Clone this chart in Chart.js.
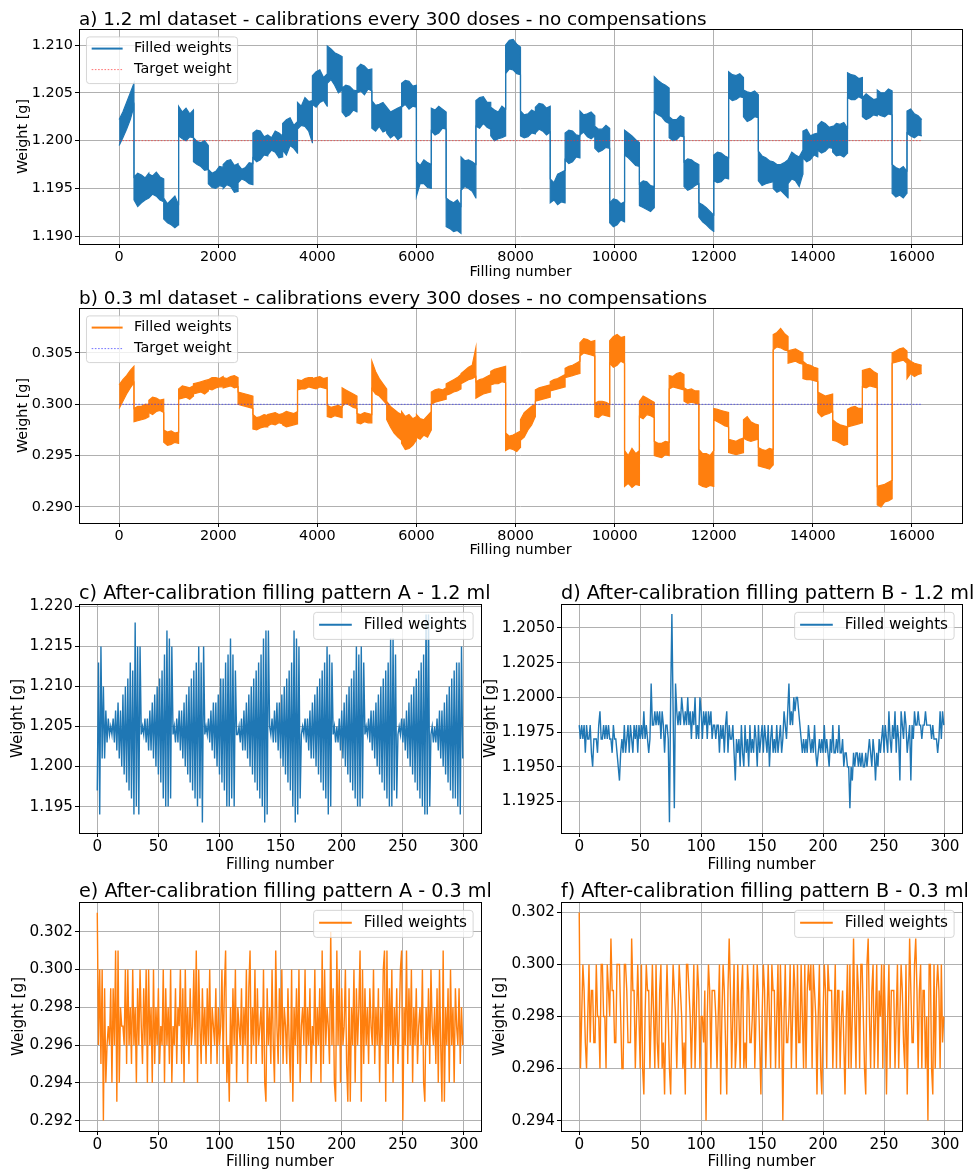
<!DOCTYPE html>
<html>
<head>
<meta charset="utf-8">
<script src="https://cdn.jsdelivr.net/npm/chart.js@4.4.1/dist/chart.umd.min.js"></script>
<style>
  body { margin: 0; background: #fff; }
  #fig { position: relative; width: 975px; height: 1169px; overflow: hidden; background: #fff; }
  #fig canvas { position: absolute; }
</style>
</head>
<body>
<div id="fig">
  <canvas id="chartA"></canvas>
  <canvas id="chartB"></canvas>
  <canvas id="chartC"></canvas>
  <canvas id="chartD"></canvas>
  <canvas id="chartE"></canvas>
  <canvas id="chartF"></canvas>
</div>
<script>
// ---- data ----
const doseBlock = 300;                    // calibration every 300 doses
const segOffsets = [0, 75, 150, 225, 299]; // points read inside each block
const lastDose = 16199;

// a) 1.2 ml: lower / upper edge of the noise band, 5 readings per block
const aLo = [
  1.1995,1.2003,1.2012,1.2022,1.2036, 1.1938,1.1931,1.1935,1.1938,1.1940,
  1.1940,1.1944,1.1942,1.1938,1.1936, 1.1918,1.1914,1.1912,1.1909,1.1912,
  1.2005,1.2002,1.2000,1.2004,1.2003, 1.1978,1.1975,1.1973,1.1969,1.1970,
  1.1955,1.1951,1.1950,1.1953,1.1952, 1.1950,1.1954,1.1952,1.1946,1.1947,
  1.1956,1.1960,1.1958,1.1955,1.1954, 1.1982,1.1978,1.1980,1.1985,1.1984,
  1.1985,1.1990,1.1988,1.1982,1.1983, 1.1990,1.1985,1.1995,1.1992,1.1987,
  1.2012,1.2016,1.2015,1.2010,1.1998, 1.2038,1.2035,1.2040,1.2042,1.2036,
  1.2060,1.2064,1.2058,1.2050,1.2053, 1.2030,1.2025,1.2027,1.2032,1.2030,
  1.2050,1.2052,1.2048,1.2054,1.2052, 1.2013,1.2010,1.2015,1.2009,1.2011,
  1.2008,1.2003,1.2006,1.2001,1.2004, 1.2035,1.2038,1.2033,1.2036,1.2035,
  1.1942,1.1955,1.1955,1.1951,1.1950, 1.2010,1.2006,1.2008,1.2013,1.2012,
  1.1910,1.1908,1.1905,1.1906,1.1903, 1.1948,1.1952,1.1950,1.1947,1.1940,
  1.2015,1.2013,1.2018,1.2014,1.2012, 1.2005,1.2000,1.2002,1.2003,1.2005,
  1.2070,1.2075,1.2074,1.2070,1.2069, 1.2005,1.2003,1.2004,1.2008,1.2007,
  1.2008,1.2012,1.2010,1.2006,1.2009, 1.1935,1.1938,1.1933,1.1936,1.1935,
  1.1980,1.1976,1.1978,1.1983,1.1982, 1.2006,1.2009,1.2004,1.2002,1.2005,
  1.1992,1.1988,1.1990,1.1993,1.1992, 1.1914,1.1910,1.1912,1.1917,1.1915,
  1.1985,1.1982,1.1978,1.1974,1.1973, 1.1932,1.1930,1.1928,1.1926,1.1930,
  1.2030,1.2027,1.2025,1.2020,1.2018, 1.2003,1.2000,1.2001,1.2005,1.2004,
  1.1952,1.1948,1.1950,1.1953,1.1955, 1.1920,1.1915,1.1912,1.1908,1.1905,
  1.1958,1.1956,1.1957,1.1961,1.1960, 1.2045,1.2042,1.2043,1.2046,1.2045,
  1.2025,1.2020,1.2022,1.2025,1.2024, 1.1958,1.1953,1.1955,1.1956,1.1957,
  1.1950,1.1946,1.1948,1.1944,1.1940, 1.1955,1.1960,1.1958,1.1952,1.1965,
  1.1982,1.1978,1.1980,1.1985,1.1983, 1.1990,1.1987,1.1989,1.1993,1.1992,
  1.1988,1.1984,1.1985,1.1983,1.1987, 1.2045,1.2043,1.2043,1.2046,1.2044,
  1.2025,1.2022,1.2024,1.2027,1.2026, 1.2028,1.2026,1.2025,1.2028,1.2027,
  1.1945,1.1941,1.1943,1.1940,1.1945, 1.2008,1.2005,1.2003,1.2006,1.2005
];
const aHi = [
  1.2022,1.2030,1.2040,1.2050,1.2060, 1.1962,1.1966,1.1964,1.1961,1.1966,
  1.1965,1.1963,1.1967,1.1962,1.1960, 1.1940,1.1934,1.1938,1.1942,1.1933,
  1.2036,1.2030,1.2034,1.2028,1.2032, 1.2003,1.1999,1.1998,1.2000,1.1995,
  1.1970,1.1966,1.1968,1.1973,1.1972, 1.1975,1.1979,1.1980,1.1974,1.1976,
  1.1975,1.1970,1.1972,1.1977,1.1976, 1.2008,1.2011,1.2010,1.2004,1.2006,
  1.2006,1.2003,1.2010,1.2008,1.2005, 1.2018,1.2022,1.2024,1.2016,1.2020,
  1.2040,1.2036,1.2045,1.2041,1.2042, 1.2068,1.2072,1.2074,1.2066,1.2070,
  1.2099,1.2096,1.2092,1.2090,1.2088, 1.2055,1.2058,1.2057,1.2053,1.2052,
  1.2076,1.2080,1.2078,1.2074,1.2075, 1.2042,1.2037,1.2038,1.2040,1.2035,
  1.2035,1.2030,1.2032,1.2034,1.2036, 1.2060,1.2063,1.2062,1.2057,1.2058,
  1.1978,1.1974,1.1980,1.1977,1.1975, 1.2034,1.2032,1.2036,1.2033,1.2030,
  1.1940,1.1937,1.1935,1.1938,1.1932, 1.1983,1.1979,1.1980,1.1978,1.1975,
  1.2042,1.2045,1.2046,1.2040,1.2040, 1.2035,1.2032,1.2030,1.2036,1.2033,
  1.2100,1.2105,1.2106,1.2101,1.2098, 1.2031,1.2027,1.2028,1.2032,1.2030,
  1.2035,1.2039,1.2038,1.2034,1.2036, 1.1960,1.1956,1.1965,1.1967,1.1969,
  1.2008,1.2011,1.2010,1.2006,1.2005, 1.2031,1.2027,1.2028,1.2030,1.2026,
  1.2015,1.2012,1.2012,1.2016,1.2013, 1.1935,1.1939,1.1938,1.1934,1.1936,
  1.2011,1.2008,1.2005,1.2001,1.1998, 1.1955,1.1958,1.1957,1.1953,1.1952,
  1.2067,1.2063,1.2060,1.2058,1.2055, 1.2025,1.2022,1.2022,1.2026,1.2024,
  1.1978,1.1981,1.1980,1.1977,1.1975, 1.1935,1.1933,1.1930,1.1926,1.1922,
  1.1985,1.1988,1.1987,1.1984,1.1982, 1.2072,1.2069,1.2068,1.2070,1.2066,
  1.2053,1.2051,1.2050,1.2052,1.2048, 1.1989,1.1984,1.1982,1.1979,1.1978,
  1.1978,1.1975,1.1975,1.1977,1.1980, 1.1980,1.1988,1.1985,1.1983,1.1990,
  1.2010,1.2012,1.2005,1.2007,1.2008, 1.2016,1.2020,1.2018,1.2014,1.2015,
  1.2014,1.2018,1.2017,1.2019,1.2013, 1.2071,1.2069,1.2068,1.2065,1.2066,
  1.2045,1.2049,1.2046,1.2043,1.2044, 1.2053,1.2050,1.2050,1.2054,1.2052,
  1.1975,1.1972,1.1970,1.1973,1.1968, 1.2031,1.2033,1.2028,1.2026,1.2022
];

// b) 0.3 ml: same layout
const bLo = [
  0.2996,0.3003,0.3010,0.3016,0.3021, 0.2983,0.2984,0.2985,0.2986,0.2988,
  0.2992,0.2990,0.2993,0.2994,0.2992, 0.2963,0.2960,0.2961,0.2963,0.2962,
  0.3005,0.3006,0.3007,0.3005,0.3008, 0.3010,0.3011,0.3012,0.3010,0.3013,
  0.3015,0.3014,0.3016,0.3017,0.3017, 0.3016,0.3017,0.3018,0.3016,0.3017,
  0.3000,0.2999,0.2998,0.2997,0.2996, 0.2976,0.2975,0.2977,0.2978,0.2978,
  0.2979,0.2981,0.2980,0.2982,0.2981, 0.2980,0.2978,0.2979,0.2980,0.2981,
  0.3014,0.3015,0.3015,0.3017,0.3016, 0.3016,0.3015,0.3017,0.3016,0.3015,
  0.2988,0.2987,0.2989,0.2988,0.2987, 0.2998,0.3001,0.2999,0.2997,0.2996,
  0.2982,0.2981,0.2983,0.2982,0.2982, 0.3015,0.3010,0.3008,0.3004,0.3000,
  0.2985,0.2978,0.2972,0.2968,0.2965, 0.2962,0.2956,0.2957,0.2960,0.2965,
  0.2968,0.2966,0.2970,0.2968,0.2975, 0.3000,0.3002,0.3003,0.3004,0.3005,
  0.3009,0.3010,0.3012,0.3013,0.3015, 0.3020,0.3022,0.3024,0.3025,0.3027,
  0.3006,0.3008,0.3010,0.3011,0.3012, 0.3019,0.3020,0.3020,0.3022,0.3021,
  0.2955,0.2957,0.2956,0.2954,0.2958, 0.2965,0.2968,0.2975,0.2980,0.2988,
  0.3003,0.3004,0.3005,0.3006,0.3007, 0.3013,0.3014,0.3015,0.3016,0.3017,
  0.3026,0.3027,0.3028,0.3029,0.3030, 0.3047,0.3050,0.3049,0.3048,0.3047,
  0.2988,0.2987,0.2990,0.2989,0.2988, 0.3040,0.3036,0.3038,0.3042,0.3040,
  0.2920,0.2923,0.2919,0.2922,0.2921, 0.2988,0.2986,0.2990,0.2989,0.2987,
  0.2950,0.2949,0.2948,0.2951,0.2950, 0.3015,0.3017,0.3016,0.3015,0.3014,
  0.3003,0.3001,0.3002,0.3001,0.3000, 0.2922,0.2920,0.2919,0.2921,0.2920,
  0.2985,0.2983,0.2981,0.2979,0.2978, 0.2953,0.2952,0.2951,0.2952,0.2953,
  0.2967,0.2965,0.2964,0.2965,0.2966, 0.2940,0.2939,0.2938,0.2937,0.2941,
  0.3053,0.3056,0.3055,0.3053,0.3052, 0.3040,0.3041,0.3042,0.3040,0.3039,
  0.3025,0.3024,0.3024,0.3023,0.3022, 0.2992,0.2988,0.2990,0.2991,0.2993,
  0.2965,0.2964,0.2962,0.2960,0.2961, 0.2978,0.2979,0.2980,0.2981,0.2982,
  0.3017,0.3016,0.3018,0.3017,0.3016, 0.2902,0.2900,0.2905,0.2906,0.2908,
  0.3040,0.3041,0.3042,0.3043,0.3040, 0.3025,0.3030,0.3027,0.3029,0.3030
];
const bHi = [
  0.3019,0.3024,0.3028,0.3033,0.3037, 0.2996,0.2998,0.2998,0.3000,0.3000,
  0.3004,0.3007,0.3006,0.3004,0.3005, 0.2975,0.2973,0.2974,0.2972,0.2973,
  0.3015,0.3018,0.3017,0.3016,0.3018, 0.3020,0.3021,0.3022,0.3023,0.3024,
  0.3024,0.3026,0.3026,0.3025,0.3027, 0.3026,0.3025,0.3027,0.3028,0.3026,
  0.3012,0.3011,0.3010,0.3009,0.3008, 0.2990,0.2987,0.2988,0.2990,0.2989,
  0.2990,0.2991,0.2992,0.2990,0.2991, 0.2991,0.2993,0.2992,0.2991,0.2993,
  0.3024,0.3023,0.3025,0.3026,0.3026, 0.3025,0.3026,0.3027,0.3025,0.3026,
  0.2999,0.2997,0.2998,0.2999,0.2997, 0.3016,0.3014,0.3012,0.3010,0.3008,
  0.2991,0.2990,0.2992,0.2991,0.2990, 0.3042,0.3032,0.3025,0.3020,0.3015,
  0.3003,0.2998,0.2995,0.2992,0.2990, 0.2993,0.2988,0.2990,0.2986,0.2988,
  0.2990,0.2986,0.2985,0.2989,0.2993, 0.3012,0.3014,0.3015,0.3014,0.3016,
  0.3020,0.3022,0.3024,0.3026,0.3029, 0.3030,0.3033,0.3036,0.3038,0.3055,
  0.3022,0.3024,0.3025,0.3027,0.3029, 0.3032,0.3034,0.3035,0.3036,0.3037,
  0.2972,0.2969,0.2970,0.2972,0.2974, 0.2985,0.2992,0.2995,0.2998,0.3000,
  0.3014,0.3016,0.3017,0.3018,0.3019, 0.3022,0.3024,0.3025,0.3027,0.3029,
  0.3035,0.3037,0.3038,0.3040,0.3042, 0.3060,0.3064,0.3063,0.3061,0.3062,
  0.3001,0.3003,0.3003,0.3002,0.3000, 0.3062,0.3066,0.3068,0.3065,0.3066,
  0.2955,0.2950,0.2957,0.2952,0.2955, 0.3003,0.3008,0.3006,0.3004,0.3002,
  0.2964,0.2962,0.2962,0.2964,0.2963, 0.3028,0.3027,0.3030,0.3031,0.3029,
  0.3016,0.3014,0.3015,0.3013,0.3013, 0.2956,0.2952,0.2952,0.2950,0.2955,
  0.2996,0.2995,0.2994,0.2993,0.2992, 0.2966,0.2965,0.2964,0.2966,0.2967,
  0.2985,0.2988,0.2983,0.2981,0.2980, 0.2958,0.2956,0.2955,0.2957,0.2956,
  0.3068,0.3070,0.3074,0.3069,0.3066, 0.3052,0.3053,0.3054,0.3052,0.3050,
  0.3042,0.3039,0.3038,0.3036,0.3035, 0.3012,0.3010,0.3008,0.3009,0.3010,
  0.2985,0.2982,0.2980,0.2979,0.2978, 0.2995,0.2997,0.2998,0.2996,0.2996,
  0.3033,0.3034,0.3035,0.3032,0.3030, 0.2920,0.2921,0.2922,0.2924,0.2926,
  0.3050,0.3052,0.3054,0.3055,0.3052, 0.3045,0.3042,0.3040,0.3039,0.3038
];
const targetA = 1.200;
const targetB = 0.300;

// c) - f) one value per filling, in mg
const cMg = [
  1197,1213,1194,1215,1201,1210,1201,1207,1203,1206,1204,1205,
  1204,1206,1203,1207,1202,1208,1201,1207,1200,1209,1199,1210,1198,1211,1197,1213,1196,1212,1194,1218,1195,1215,1194,1215,
  1204,1205,1204,1206,1203,1206,1202,1207,1202,1208,1201,1209,1200,1210,1199,1211,1198,1212,1196,1214,1195,1217,1195,1216,1196,1215,
  1204,1205,1203,1206,1203,1207,1202,1207,1201,1208,1200,1209,1199,1210,1198,1211,1197,1212,1196,1213,1195,1215,1196,1213,1193,1215,
  1204,1205,1204,1206,1203,1207,1202,1208,1201,1208,1200,1209,1199,1211,1198,1211,1197,1213,1195,1214,1195,1216,1196,1214,1195,1212,
  1204,1204,1205,1203,1206,1202,1207,1202,1208,1201,1209,1200,1210,1199,1211,1198,1212,1197,1213,1196,1214,1195,1216,1193,1217,1194,1217,
  1205,1204,1206,1203,1207,1203,1208,1202,1208,1201,1209,1200,1210,1199,1211,1198,1212,1197,1213,1195,1217,1193,1216,1194,1215,1196,
  1204,1205,1204,1206,1203,1206,1202,1207,1201,1208,1201,1209,1200,1210,1199,1211,1198,1212,1197,1213,1196,1215,1194,1214,1195,1213,
  1204,1205,1203,1205,1203,1206,1202,1207,1201,1208,1200,1209,1199,1210,1198,1211,1197,1212,1196,1215,1195,1214,1195,1215,1196,1213,
  1204,1205,1204,1206,1203,1207,1202,1207,1201,1208,1200,1209,1199,1210,1198,1211,1197,1212,1196,1213,1195,1216,1195,1216,1197,1214,1196,
  1204,1205,1204,1206,1203,1206,1202,1207,1201,1208,1200,1209,1199,1210,1198,1211,1197,1212,1196,1213,1195,1214,1194,1219,1194,1219,1195,
  1204,1205,1203,1205,1203,1206,1202,1207,1201,1207,1200,1208,1199,1209,1198,1210,1197,1211,1196,1212,1196,1213,1195,1213,1194,1215,1201
];
const dMg = [
  1198,1197,1198,1197,1198,1196,1198,1197,1197,1198, 1196,1195,1197,1197,1197,1196,1198,1199,1197,1197,
  1198,1197,1198,1197,1198,1197,1197,1196,1198,1197, 1197,1196,1195,1194,1196,1197,1196,1198,1196,1197,
  1198,1196,1198,1197,1196,1198,1197,1198,1196,1198, 1197,1198,1197,1199,1197,1198,1197,1196,1197,1201,
  1198,1198,1199,1198,1199,1198,1199,1197,1199,1198, 1196,1198,1198,1197,1191,1200,1206,1199,1192,1201,
  1199,1198,1199,1198,1200,1199,1198,1199,1198,1200, 1198,1199,1197,1199,1198,1200,1197,1198,1197,1200,
  1199,1197,1199,1198,1199,1197,1199,1198,1199,1197, 1198,1198,1197,1198,1198,1196,1198,1197,1198,1196,
  1198,1199,1196,1198,1197,1197,1198,1196,1194,1197, 1196,1197,1195,1198,1196,1195,1198,1196,1197,1195,
  1198,1196,1197,1196,1198,1197,1195,1198,1196,1197, 1198,1196,1198,1197,1196,1198,1195,1197,1198,1196,
  1197,1196,1198,1196,1197,1198,1196,1197,1199,1198, 1197,1199,1201,1198,1199,1198,1200,1199,1200,1200,
  1199,1198,1197,1196,1197,1196,1197,1196,1198,1197, 1196,1197,1196,1198,1196,1195,1196,1197,1196,1197,
  1196,1198,1196,1197,1196,1195,1197,1196,1198,1196, 1196,1197,1196,1198,1196,1196,1197,1195,1196,1196,
  1195,1195,1192,1195,1194,1196,1195,1196,1196,1195, 1196,1195,1196,1195,1195,1196,1195,1196,1197,1196,
  1195,1197,1196,1194,1196,1195,1197,1196,1197,1198, 1196,1198,1197,1196,1199,1197,1196,1198,1197,1199,
  1196,1198,1197,1194,1199,1198,1197,1199,1198,1196, 1197,1198,1194,1198,1197,1199,1198,1198,1199,1198,
  1198,1197,1198,1198,1199,1198,1198,1198,1198,1197, 1198,1197,1197,1197,1196,1197,1199,1197,1199,1198
];
const eMg = [
  303,296,300,295,300,292,299,294,296,297, 296,299,294,299,296,301,293,301,294,298,
  297,297,296,300,295,300,296,298,295,300, 296,298,294,299,296,300,297,295,299,296,
  300,294,300,296,298,294,300,295,298,296, 299,295,297,296,300,294,299,296,298,295,
  300,294,297,296,299,295,298,297,300,295, 299,294,300,296,298,295,299,296,297,300,
  296,301,294,300,297,295,299,296,298,295, 299,296,300,295,298,297,296,299,295,298,
  296,297,300,295,299,301,294,296,293,298, 295,299,296,300,294,298,297,296,299,295,
  298,296,300,294,299,301,295,298,296,300, 295,299,296,297,298,295,300,294,293,299,
  296,298,295,300,296,294,301,297,295,299, 296,300,295,298,297,295,299,296,294,300,
  293,298,296,299,295,300,294,297,298,296, 300,295,298,296,299,294,297,296,300,295,
  298,296,299,294,301,295,300,296,298,297, 295,302,296,299,294,293,301,296,300,294,
  299,296,297,300,295,293,299,293,298,296, 300,294,299,296,298,301,293,300,295,299,
  296,298,295,299,297,296,300,295,298,296, 299,294,298,296,300,301,293,301,295,299,
  296,300,294,298,296,299,295,297,300,301, 292,298,296,301,295,299,296,300,294,298,
  296,299,295,297,298,296,300,294,293,298, 296,299,295,300,297,296,298,295,299,294,
  300,296,293,301,293,298,296,299,294,300, 296,298,294,299,297,296,299,295,298,296
];
const fMg = [
  302,296,298,300,299,297,296,298,300,297, 299,299,297,297,300,298,298,296,300,300,
  298,298,296,300,299,298,301,299,299,297, 297,300,300,300,298,296,296,300,300,299,
  297,297,297,301,299,299,296,298,300,298, 296,300,296,295,298,300,299,299,296,298,
  300,298,296,300,297,296,299,300,296,297, 295,298,300,298,296,295,298,300,299,298,
  296,298,300,299,298,296,297,295,300,300, 299,298,296,298,300,296,298,300,299,296,
  298,298,297,299,294,298,300,299,296,299, 299,299,298,296,298,300,295,298,300,299,
  297,295,299,301,299,296,298,300,296,297, 300,298,296,299,300,296,297,296,300,299,
  297,297,298,300,296,298,300,299,297,295, 298,300,299,296,298,300,298,296,300,299,
  299,296,298,300,296,300,298,294,298,300, 297,297,298,300,296,298,300,299,296,300,
  297,297,300,298,296,300,296,299,300,299, 300,296,300,299,298,295,298,300,296,295,
  298,300,299,296,300,299,299,299,296,298, 300,296,299,299,296,298,299,297,295,298,
  300,296,300,296,298,301,298,296,300,299, 296,300,300,298,296,295,300,301,298,296,
  299,300,296,298,300,296,299,298,300,296, 300,298,295,298,300,296,299,299,299,296,
  298,300,296,298,300,299,297,296,300,295, 298,301,299,297,297,300,301,299,296,299,
  300,296,299,299,296,298,294,300,300,296, 295,300,296,299,300,299,296,300,297,298
];

// tick values
const xTicksBig = [0, 2000, 4000, 6000, 8000, 10000, 12000, 14000, 16000];
const xTicksSmall = [0, 50, 100, 150, 200, 250, 300];
const yTicksA = [1.190, 1.195, 1.200, 1.205, 1.210];
const yTicksB = [0.290, 0.295, 0.300, 0.305];
const yTicksC = [1.195, 1.200, 1.205, 1.210, 1.215, 1.220];
const yTicksD = [1.1925, 1.1950, 1.1975, 1.2000, 1.2025, 1.2050];
const yTicksE = [0.292, 0.294, 0.296, 0.298, 0.300, 0.302];
const yTicksF = [0.294, 0.296, 0.298, 0.300, 0.302];

// ---- styling ----
const BLUE = '#1f77b4';
const ORANGE = '#ff7f0e';
const FONT = "'DejaVu Sans', sans-serif";
const GRID = '#b0b0b0';

Chart.defaults.font.family = FONT;
Chart.defaults.color = '#000';

// ---- helpers ----
function bandPoints(vals) {
  const n = segOffsets.length;
  return vals.map((y, j) => ({ x: Math.floor(j / n) * doseBlock + segOffsets[j % n], y: y }));
}

function seriesPoints(mg) {
  return mg.map((v, i) => ({ x: i, y: v / 1000 }));
}

// black box round the plot area, like a matplotlib axes frame
const frameBox = {
  id: 'frameBox',
  afterDatasetsDraw(chart) {
    const { ctx, chartArea: a } = chart;
    ctx.save();
    ctx.strokeStyle = '#000';
    ctx.lineWidth = 1;
    ctx.strokeRect(Math.round(a.left) + 0.5, Math.round(a.top) + 0.5,
      Math.round(a.right - a.left), Math.round(a.bottom - a.top));
    ctx.restore();
  }
};

// left-aligned axes title
const mplTitle = {
  id: 'mplTitle',
  afterDraw(chart, args, opts) {
    if (!opts.text) return;
    const { ctx, chartArea: a } = chart;
    ctx.save();
    ctx.font = `${opts.size}px ${FONT}`;
    ctx.fillStyle = '#000';
    ctx.textAlign = 'left';
    ctx.textBaseline = 'alphabetic';
    ctx.fillText(opts.text, a.left, a.top - opts.gap);
    ctx.restore();
  }
};

// legend box drawn inside the axes corner
const mplLegend = {
  id: 'mplLegend',
  afterDraw(chart, args, opts) {
    if (!opts.items) return;
    const { ctx, chartArea: a } = chart;
    const s = opts.size;
    ctx.save();
    ctx.font = `${s}px ${FONT}`;
    const textW = Math.max(...opts.items.map(it => ctx.measureText(it.label).width));
    const lineX0 = 0.36 * s, lineLen = 2.15 * s, textX = 3.3 * s;
    const w = textX + textW + 0.4 * s;
    const row0 = 0.81 * s, rowGap = 1.46 * s;
    const h = row0 + rowGap * (opts.items.length - 1) + 0.97 * s;
    const x = opts.corner === 'right' ? a.right - 0.52 * s - w : a.left + 0.52 * s;
    const y = a.top + 0.55 * s;

    ctx.beginPath();
    ctx.roundRect(x, y, w, h, 3);
    ctx.fillStyle = 'rgba(255,255,255,0.8)';
    ctx.fill();
    ctx.strokeStyle = 'rgba(204,204,204,0.8)';
    ctx.lineWidth = 1;
    ctx.stroke();

    opts.items.forEach((it, i) => {
      const cy = y + row0 + rowGap * i;
      ctx.beginPath();
      ctx.setLineDash(it.dash || []);
      ctx.strokeStyle = it.color;
      ctx.lineWidth = it.width;
      ctx.moveTo(x + lineX0, cy);
      ctx.lineTo(x + lineX0 + lineLen, cy);
      ctx.stroke();
      ctx.setLineDash([]);
      ctx.fillStyle = '#000';
      ctx.textAlign = 'left';
      ctx.textBaseline = 'middle';
      ctx.fillText(it.label, x + textX, cy);
    });
    ctx.restore();
  }
};

// place a canvas on the page and build a chart whose plot area sits at `area`
function makeChart(id, box, area, cfg) {
  const canvas = document.getElementById(id);
  canvas.width = box.w;
  canvas.height = box.h;
  canvas.style.left = box.x + 'px';
  canvas.style.top = box.y + 'px';
  canvas.style.width = box.w + 'px';
  canvas.style.height = box.h + 'px';

  const yWidth = area.left - box.x;
  const xHeight = box.y + box.h - area.bottom;
  const tickSize = cfg.tickSize;
  const lh = tickSize * 1.2;

  return new Chart(canvas, {
    type: 'line',
    data: { datasets: cfg.datasets },
    plugins: [frameBox, mplTitle, mplLegend],
    options: {
      responsive: false,
      animation: false,
      devicePixelRatio: 1,
      events: [],
      layout: {
        autoPadding: false,
        padding: { left: 0, top: area.top - box.y, right: box.x + box.w - area.right, bottom: 0 }
      },
      elements: { point: { radius: 0 }, line: { tension: 0 } },
      plugins: {
        legend: { display: false },
        tooltip: { enabled: false },
        mplTitle: { text: cfg.title, size: cfg.titleSize, gap: cfg.titleGap },
        mplLegend: { items: cfg.legend, corner: cfg.legendCorner, size: tickSize }
      },
      scales: {
        x: {
          type: 'linear',
          min: cfg.xMin,
          max: cfg.xMax,
          afterBuildTicks: s => { s.ticks = cfg.xTicks.map(v => ({ value: v })); },
          afterFit: s => { s.height = xHeight; },
          ticks: {
            font: { size: tickSize }, color: '#000', padding: 1, maxRotation: 0, autoSkip: false,
            callback: v => String(v)
          },
          grid: { color: GRID, lineWidth: 1, tickColor: '#000', tickLength: 4, tickWidth: 1 },
          border: { display: false },
          title: {
            display: true, text: 'Filling number', font: { size: tickSize }, color: '#000',
            padding: { top: 0, bottom: cfg.xTitleFromBottom - lh / 2 }
          }
        },
        y: {
          type: 'linear',
          min: cfg.yMin,
          max: cfg.yMax,
          afterBuildTicks: s => { s.ticks = cfg.yTicks.map(v => ({ value: v })); },
          afterFit: s => { s.width = yWidth; },
          ticks: {
            font: { size: tickSize }, color: '#000', padding: 2, autoSkip: false,
            callback: v => v.toFixed(cfg.yDecimals)
          },
          grid: { color: GRID, lineWidth: 1, tickColor: '#000', tickLength: 4, tickWidth: 1 },
          border: { display: false },
          title: {
            display: true, text: 'Weight [g]', font: { size: tickSize }, color: '#000',
            padding: { top: cfg.yTitleX - box.x - lh / 2, bottom: 0 }
          }
        }
      }
    }
  });
}

function bandDatasets(lo, hi, color, target, targetColor) {
  return [
    { label: 'hi', data: bandPoints(hi), borderColor: color, borderWidth: 1.2, fill: false, order: 2 },
    { label: 'Filled weights', data: bandPoints(lo), borderColor: color, borderWidth: 1.2,
      backgroundColor: color, fill: '-1', order: 2 },
    { label: 'Target weight', data: [{ x: 0, y: target }, { x: lastDose, y: target }],
      borderColor: targetColor, borderWidth: 1, borderDash: [1.6, 1.6], fill: false, order: 1 }
  ];
}

function lineDataset(mg, color) {
  return [{ label: 'Filled weights', data: seriesPoints(mg), borderColor: color, borderWidth: 1.4, fill: false }];
}

const TOP_TICK = 14.4, TOP_TITLE = 18.4;
const BOT_TICK = 15.2, BOT_TITLE = 19.2;
const RED_T = 'rgba(255,40,40,0.65)';
const BLUE_T = 'rgba(40,40,255,0.65)';

// a)
makeChart('chartA', { x: 0, y: 0, w: 975, h: 282 }, { left: 79, top: 29, right: 962, bottom: 244 }, {
  datasets: bandDatasets(aLo, aHi, BLUE, targetA, RED_T),
  title: 'a) 1.2 ml dataset - calibrations every 300 doses - no compensations',
  titleSize: TOP_TITLE, titleGap: 4.5, tickSize: TOP_TICK,
  xMin: -810, xMax: 17010, xTicks: xTicksBig,
  yMin: 1.18919, yMax: 1.21168, yTicks: yTicksA, yDecimals: 3,
  xTitleFromBottom: 10, yTitleX: 23.7,
  legend: [
    { label: 'Filled weights', color: BLUE, width: 2 },
    { label: 'Target weight', color: RED_T, width: 1, dash: [1.6, 1.6] }
  ], legendCorner: 'left'
});

// b)
makeChart('chartB', { x: 0, y: 282, w: 975, h: 288 }, { left: 79, top: 308, right: 962, bottom: 523 }, {
  datasets: bandDatasets(bLo, bHi, ORANGE, targetB, BLUE_T),
  title: 'b) 0.3 ml dataset - calibrations every 300 doses - no compensations',
  titleSize: TOP_TITLE, titleGap: 4.5, tickSize: TOP_TICK,
  xMin: -810, xMax: 17010, xTicks: xTicksBig,
  yMin: 0.28844, yMax: 0.30938, yTicks: yTicksB, yDecimals: 3,
  xTitleFromBottom: 20, yTitleX: 23.7,
  legend: [
    { label: 'Filled weights', color: ORANGE, width: 2 },
    { label: 'Target weight', color: BLUE_T, width: 1, dash: [1.6, 1.6] }
  ], legendCorner: 'left'
});

// c)
makeChart('chartC', { x: 0, y: 570, w: 495, h: 305 }, { left: 79, top: 604, right: 481, bottom: 833 }, {
  datasets: lineDataset(cMg, BLUE),
  title: 'c) After-calibration filling pattern A - 1.2 ml',
  titleSize: BOT_TITLE, titleGap: 5.5, tickSize: BOT_TICK,
  xMin: -14.95, xMax: 313.95, xTicks: xTicksSmall,
  yMin: 1.1917, yMax: 1.2203, yTicks: yTicksC, yDecimals: 3,
  xTitleFromBottom: 10, yTitleX: 18.5,
  legend: [{ label: 'Filled weights', color: BLUE, width: 2 }], legendCorner: 'right'
});

// d)
makeChart('chartD', { x: 470, y: 570, w: 505, h: 305 }, { left: 561, top: 604, right: 962, bottom: 833 }, {
  datasets: lineDataset(dMg, BLUE),
  title: 'd) After-calibration filling pattern B - 1.2 ml',
  titleSize: BOT_TITLE, titleGap: 5.5, tickSize: BOT_TICK,
  xMin: -14.95, xMax: 313.95, xTicks: xTicksSmall,
  yMin: 1.19022, yMax: 1.20673, yTicks: yTicksD, yDecimals: 4,
  xTitleFromBottom: 10, yTitleX: 491.5,
  legend: [{ label: 'Filled weights', color: BLUE, width: 2 }], legendCorner: 'right'
});

// e)
makeChart('chartE', { x: 0, y: 875, w: 495, h: 294 }, { left: 79, top: 902, right: 481, bottom: 1131 }, {
  datasets: lineDataset(eMg, ORANGE),
  title: 'e) After-calibration filling pattern A - 0.3 ml',
  titleSize: BOT_TITLE, titleGap: 5.5, tickSize: BOT_TICK,
  xMin: -14.95, xMax: 313.95, xTicks: xTicksSmall,
  yMin: 0.29145, yMax: 0.30357, yTicks: yTicksE, yDecimals: 3,
  xTitleFromBottom: 7.3, yTitleX: 18.7,
  legend: [{ label: 'Filled weights', color: ORANGE, width: 2 }], legendCorner: 'right'
});

// f)
makeChart('chartF', { x: 470, y: 875, w: 505, h: 294 }, { left: 561, top: 902, right: 962, bottom: 1131 }, {
  datasets: lineDataset(fMg, ORANGE),
  title: 'f) After-calibration filling pattern B - 0.3 ml',
  titleSize: BOT_TITLE, titleGap: 5.5, tickSize: BOT_TICK,
  xMin: -14.95, xMax: 313.95, xTicks: xTicksSmall,
  yMin: 0.2936, yMax: 0.3024, yTicks: yTicksF, yDecimals: 3,
  xTitleFromBottom: 7.3, yTitleX: 500.3,
  legend: [{ label: 'Filled weights', color: ORANGE, width: 2 }], legendCorner: 'right'
});
</script>
</body>
</html>
